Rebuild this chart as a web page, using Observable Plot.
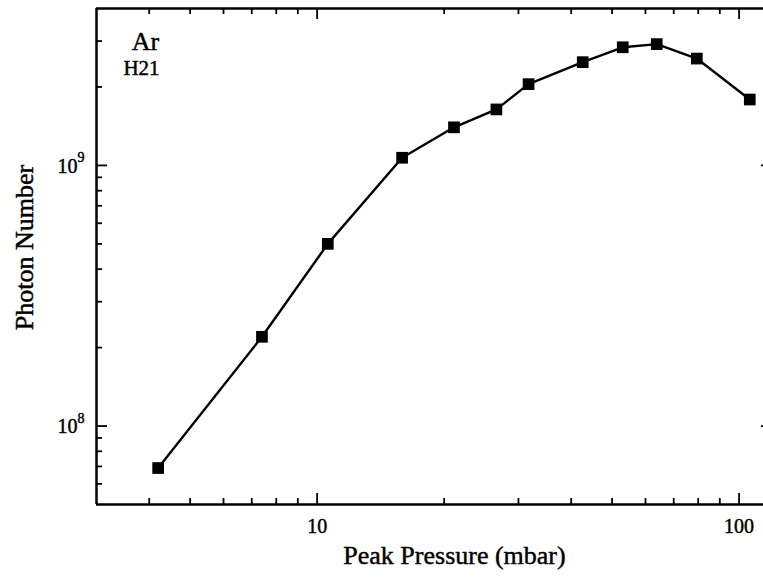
<!DOCTYPE html>
<html>
<head>
<meta charset="utf-8">
<script src="https://cdn.jsdelivr.net/npm/d3@7"></script>
<script src="https://cdn.jsdelivr.net/npm/@observablehq/plot@0.6"></script>
<style>
  html, body { margin: 0; padding: 0; background: #fff; }
  #chart svg { display: block; }
  #chart svg, #chart svg text { font-family: "Liberation Serif", "Times New Roman", serif !important; }
</style>
</head>
<body>
<div id="chart"></div>
<script>
// Data
const pressure = [4.2, 7.4, 10.6, 15.9, 21.1, 26.6, 31.7, 42.6, 53.0, 63.8, 79.4, 106];
const photons  = [6.9e7, 2.2e8, 5.0e8, 1.07e9, 1.40e9, 1.64e9, 2.05e9, 2.49e9, 2.84e9, 2.92e9, 2.57e9, 1.79e9];

const xMajor = [10, 100];
const xMinor = [4, 5, 6, 7, 8, 9, 20, 30, 40, 50, 60, 70, 80, 90];
const yMajor = [1e8, 1e9];
const yMinor = [6e7, 7e7, 8e7, 9e7, 2e8, 3e8, 4e8, 5e8, 6e8, 7e8, 8e8, 9e8, 2e9, 3e9];

const xTitle = "Peak Pressure (mbar)";
const yTitle = "Photon Number";
const gasLabel = "Ar";
const harmonicLabel = "H21";

const data = pressure.map((p, i) => ({p, n: photons[i]}));

const serif = "Liberation Serif";
const W = 763, Hh = 581;
const mTop = 8, mBottom = 77, mLeft = 96, mRight = -9;
const innerH = Hh - mTop - mBottom;
const innerW = W - mLeft - mRight;
const major = 11, minor = 6;
const tickW = 1.8;
const frameW = 2.5;
const txt = {fontFamily: serif, fill: "#000", stroke: "#000", strokeWidth: 0.45};

const chart = Plot.plot({
  width: W,
  height: Hh,
  marginTop: mTop,
  marginBottom: mBottom,
  marginLeft: mLeft,
  marginRight: mRight,
  style: {fontFamily: serif, color: "#000", background: "#fff"},
  x: {type: "log", domain: [3, 120], axis: null},
  y: {type: "log", domain: [5e7, 4e9], axis: null},
  marks: [
    // frame (left, top, bottom, right off-canvas)
    Plot.ruleX([3], {stroke: "#000", strokeWidth: frameW}),
    Plot.ruleY([5e7], {stroke: "#000", strokeWidth: frameW}),
    Plot.ruleY([4e9], {stroke: "#000", strokeWidth: frameW}),
    Plot.ruleX([120], {stroke: "#000", strokeWidth: frameW}),
    // bottom ticks (inward)
    Plot.tickX(xMajor, {x: d => d, insetTop: innerH - major, stroke: "#000", strokeWidth: tickW}),
    Plot.tickX(xMinor, {x: d => d, insetTop: innerH - minor, stroke: "#000", strokeWidth: tickW}),
    // top ticks
    Plot.tickX(xMajor, {x: d => d, insetBottom: innerH - major, stroke: "#000", strokeWidth: tickW}),
    Plot.tickX(xMinor, {x: d => d, insetBottom: innerH - minor, stroke: "#000", strokeWidth: tickW}),
    // left ticks
    Plot.tickY(yMajor, {y: d => d, insetRight: innerW - major, stroke: "#000", strokeWidth: tickW}),
    Plot.tickY(yMinor, {y: d => d, insetRight: innerW - minor, stroke: "#000", strokeWidth: tickW}),
    // right ticks
    Plot.tickY(yMajor, {y: d => d, insetLeft: innerW - major, stroke: "#000", strokeWidth: tickW}),
    Plot.tickY(yMinor, {y: d => d, insetLeft: innerW - minor, stroke: "#000", strokeWidth: tickW}),
    // x tick labels
    Plot.text(xMajor, {x: d => d, frameAnchor: "bottom", textAnchor: "middle", lineAnchor: "top", dy: 14, fontSize: 20, text: d => String(d), ...txt}),
    // y tick labels 10^n
    Plot.text(yMajor, {y: d => d, frameAnchor: "left", textAnchor: "end", lineAnchor: "middle", dx: -19, dy: 1, fontSize: 20, text: () => "10", ...txt}),
    Plot.text(yMajor, {y: d => d, frameAnchor: "left", textAnchor: "start", lineAnchor: "middle", dx: -19, dy: -8, fontSize: 14, text: d => String(Math.round(Math.log10(d))), ...txt}),
    // axis titles
    Plot.text([xTitle], {frameAnchor: "bottom", textAnchor: "middle", lineAnchor: "middle", dx: 20, dy: 51, fontSize: 26, text: d => d, ...txt}),
    Plot.text([yTitle], {frameAnchor: "left", textAnchor: "middle", lineAnchor: "middle", rotate: -90, dx: -72, dy: -9, fontSize: 26, text: d => d, ...txt}),
    // annotation
    Plot.text([gasLabel], {frameAnchor: "top-left", textAnchor: "middle", lineAnchor: "middle", dx: 49, dy: 33, fontSize: 26, text: d => d, ...txt}),
    Plot.text([harmonicLabel], {frameAnchor: "top-left", textAnchor: "middle", lineAnchor: "middle", dx: 45, dy: 60, fontSize: 21, text: d => d, ...txt}),
    // data
    Plot.line(data, {x: "p", y: "n", stroke: "#000", strokeWidth: 2.4}),
    Plot.dot(data, {x: "p", y: "n", symbol: "square", r: 6.6, fill: "#000", stroke: "none"})
  ]
});
document.getElementById("chart").appendChild(chart);
</script>
</body>
</html>
